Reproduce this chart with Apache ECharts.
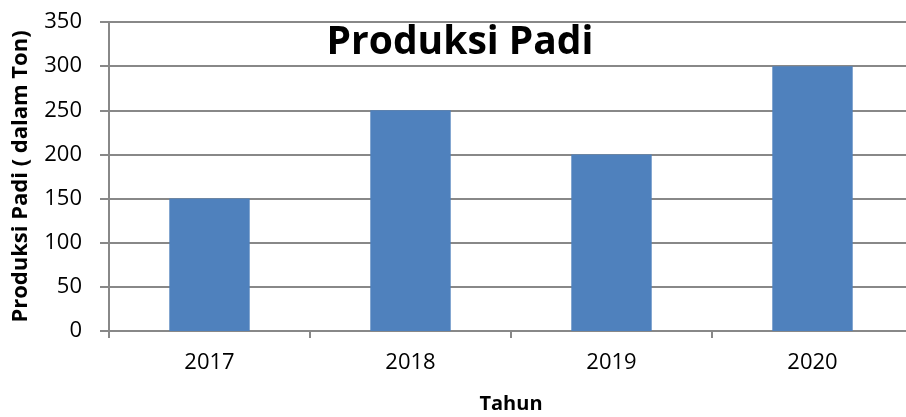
<!DOCTYPE html>
<html>
<head>
<meta charset="utf-8">
<script src="https://cdn.jsdelivr.net/npm/echarts@6/dist/echarts.min.js"></script>
<style>
html, body { margin: 0; padding: 0; background: #fff; }
#chart { width: 906px; height: 417px; }
</style>
</head>
<body>
<div id="chart"></div>
<script>
var years = ['2017', '2018', '2019', '2020'];
var produksi = [150, 250, 200, 300];
var yTicks = [0, 50, 100, 150, 200, 250, 300, 350];

var chart = echarts.init(document.getElementById('chart'));
var font = '"Open Sans", "Liberation Sans", sans-serif';

chart.setOption({
	animation: false,
	backgroundColor: '#fff',
	title: {
		text: 'Produksi Padi',
		left: 455,
		top: 18,
		textAlign: 'center',
		textStyle: { fontFamily: font, fontSize: 39, fontWeight: 'bold', color: '#000' }
	},
	grid: { left: 109, right: -7, top: 22, bottom: 86, containLabel: false, outerBoundsMode: 'none' },
	xAxis: {
		type: 'category',
		data: years,
		name: 'Tahun',
		nameLocation: 'middle',
		nameGap: 63,
		nameTextStyle: { fontFamily: font, fontSize: 20, fontWeight: 'bold', color: '#000' },
		axisLine: { lineStyle: { color: '#888', width: 2 } },
		axisTick: { show: true, length: 7, lineStyle: { color: '#888', width: 2 } },
		axisLabel: { fontFamily: font, fontSize: 22, color: '#000', margin: 21 }
	},
	yAxis: {
		type: 'value',
		min: yTicks[0],
		max: yTicks[yTicks.length - 1],
		interval: 50,
		name: 'Produksi Padi ( dalam Ton)',
		nameLocation: 'middle',
		nameGap: 77,
		nameTextStyle: { fontFamily: font, fontSize: 22, fontWeight: 'bold', color: '#000' },
		axisLine: { show: true, lineStyle: { color: '#888', width: 2 } },
		axisTick: { show: true, length: 9, lineStyle: { color: '#888', width: 2 } },
		splitLine: { lineStyle: { color: '#888', width: 2 } },
		axisLabel: { fontFamily: font, fontSize: 22, color: '#000', margin: 27 }
	},
	series: [{
		type: 'bar',
		data: produksi,
		barWidth: '40%',
		itemStyle: { color: '#4F81BD' }
	}]
});
</script>
</body>
</html>
